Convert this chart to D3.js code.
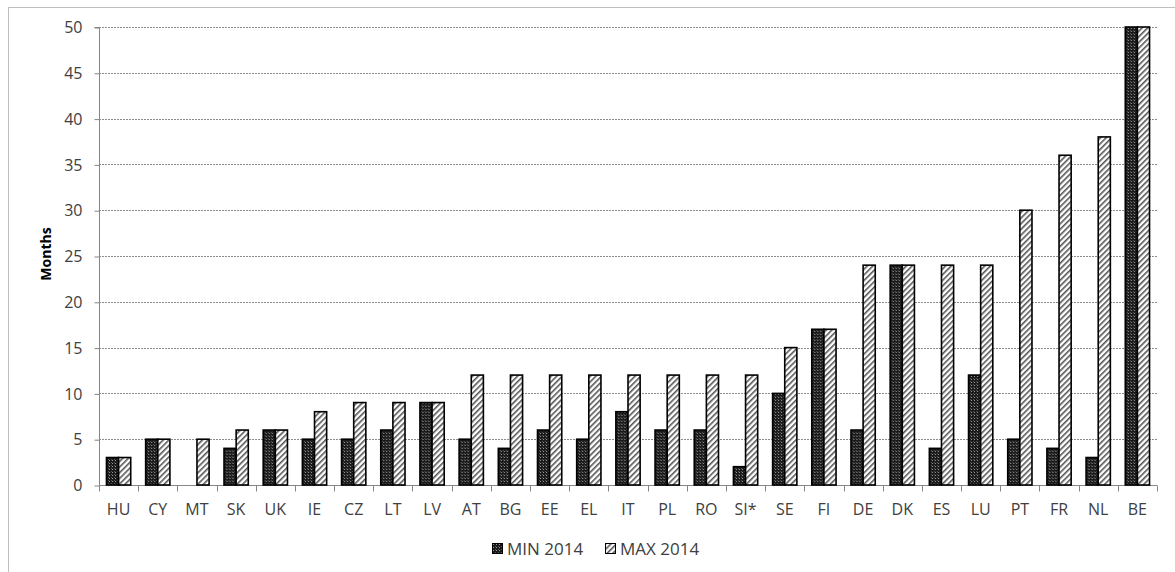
<!DOCTYPE html>
<html>
<head>
<meta charset="utf-8">
<script src="https://cdn.jsdelivr.net/npm/d3@7"></script>
<style>
  body { margin: 0; background: #fff; }
  svg { display: block; }
  text { font-family: "Open Sans", "Liberation Sans", sans-serif; fill: #404040; }
</style>
</head>
<body>
<svg id="chart" width="1175" height="572"></svg>
<script>
// Country codes and minimum / maximum durations (months), 2014
const countries = ["HU","CY","MT","SK","UK","IE","CZ","LT","LV","AT","BG","EE","EL","IT","PL","RO","SI*","SE","FI","DE","DK","ES","LU","PT","FR","NL","BE"];
const minValues = [3,5,0,4,6,5,5,6,9,5,4,6,5,8,6,6,2,10,17,6,24,4,12,5,4,3,50];
const maxValues = [3,5,5,6,6,8,9,9,9,12,12,12,12,12,12,12,12,15,17,24,24,24,24,30,36,38,50];
const seriesNames = ["MIN 2014", "MAX 2014"];
const yTicks = [0,5,10,15,20,25,30,35,40,45,50];

const svg = d3.select("#chart");
const margin = { left: 99, right: 18, top: 27, bottom: 87 };
const W = 1175, H = 572;
const x0 = margin.left, x1 = W - margin.right;
const yTop = margin.top, yBot = H - margin.bottom;

// Patterns: dark stipple for MIN, diagonal hatch for MAX
const defs = svg.append("defs");
const pMin = defs.append("pattern").attr("id", "pmin")
  .attr("patternUnits", "userSpaceOnUse").attr("width", 3).attr("height", 3);
pMin.append("rect").attr("width", 3).attr("height", 3).attr("fill", "#1a1a1a");
pMin.append("rect").attr("x", 1).attr("y", 1).attr("width", 1).attr("height", 1).attr("fill", "#9a9a9a");
pMin.append("rect").attr("x", 0).attr("y", 0).attr("width", 1).attr("height", 1).attr("fill", "#555");

const pMax = defs.append("pattern").attr("id", "pmax")
  .attr("patternUnits", "userSpaceOnUse").attr("width", 4).attr("height", 4)
  .attr("patternTransform", "rotate(45)");
pMax.append("rect").attr("width", 4).attr("height", 4).attr("fill", "#fff");
pMax.append("rect").attr("width", 1.6).attr("height", 4).attr("fill", "#555");

// Outer chart frame
svg.append("rect").attr("x", 8.5).attr("y", 7.5).attr("width", 1200).attr("height", 600)
  .attr("fill", "none").attr("stroke", "#bfbfbf").attr("stroke-width", 1);

const x = d3.scaleBand().domain(countries).range([x0, x1]).paddingInner(0).paddingOuter(0);
const xs = d3.scaleBand().domain(seriesNames).range([0, x.bandwidth()]).paddingInner(0).paddingOuter(0.615);
const y = d3.scaleLinear().domain([0, 50]).range([yBot, yTop]);

// Horizontal gridlines
svg.append("g").selectAll("line").data(yTicks.filter(d => d > 0)).join("line")
  .attr("x1", x0).attr("x2", x1)
  .attr("y1", d => Math.round(y(d)) + 0.5).attr("y2", d => Math.round(y(d)) + 0.5)
  .attr("stroke", "#8c8c8c").attr("stroke-width", 1).attr("stroke-dasharray", "2,1");

// Y axis
const yAxis = svg.append("g").attr("transform", `translate(${x0 + 0.5},0.5)`)
  .call(d3.axisLeft(y).tickValues(yTicks).tickSize(5).tickPadding(12));
yAxis.select(".domain").attr("stroke", "#868686").attr("d", `M-5,${Math.round(y(50))}H0V${Math.round(yBot)}`);
yAxis.selectAll(".tick line").attr("stroke", "#868686");
yAxis.selectAll(".tick text").style("font-size", "16px").attr("fill", "#404040");

// X axis with ticks between categories
const xAxisG = svg.append("g").attr("transform", `translate(0,${Math.round(yBot) + 0.5})`);
xAxisG.append("line").attr("x1", x0).attr("x2", x1).attr("stroke", "#868686");
const bounds = countries.map(c => x(c)).concat([x1]);
xAxisG.selectAll("line.tk").data(bounds).join("line").attr("class", "tk")
  .attr("x1", d => Math.round(d) + 0.5).attr("x2", d => Math.round(d) + 0.5)
  .attr("y1", 0).attr("y2", 6).attr("stroke", "#868686");
xAxisG.selectAll("text").data(countries).join("text")
  .attr("x", d => x(d) + x.bandwidth() / 2).attr("y", 29)
  .attr("text-anchor", "middle").style("font-size", "16px").text(d => d);

// Bars
const rows = countries.map((c, i) => ({ c, vals: [minValues[i], maxValues[i]] }));
const groups = svg.append("g").selectAll("g").data(rows).join("g")
  .attr("transform", d => `translate(${x(d.c)},0)`);
groups.selectAll("rect").data(d => d.vals.map((v, k) => ({ v, k }))).join("rect")
  .filter(d => d.v > 0)
  .attr("x", d => xs(seriesNames[d.k]))
  .attr("width", xs.bandwidth())
  .attr("y", d => y(d.v))
  .attr("height", d => yBot - y(d.v))
  .attr("fill", d => d.k === 0 ? "url(#pmin)" : "url(#pmax)")
  .attr("stroke", "#000").attr("stroke-width", 1.6);

// Y axis title
svg.append("text").attr("transform", `translate(51,${(yTop + yBot) / 2 - 2}) rotate(-90)`)
  .attr("text-anchor", "middle").style("font-size", "14px").style("font-weight", "bold")
  .style("fill", "#000").text("Months");

// Legend
const legend = svg.append("g").attr("transform", "translate(492,543)");
const legX = [0, 113];
seriesNames.forEach((s, k) => {
  const g = legend.append("g").attr("transform", `translate(${legX[k]},0)`);
  g.append("rect").attr("x", 0.5).attr("y", 0.5).attr("width", 10).attr("height", 10)
    .attr("fill", k === 0 ? "url(#pmin)" : "url(#pmax)").attr("stroke", "#000").attr("stroke-width", 1);
  g.append("text").attr("x", 15).attr("y", 11.5).style("font-size", "17px").text(s);
});
</script>
</body>
</html>
